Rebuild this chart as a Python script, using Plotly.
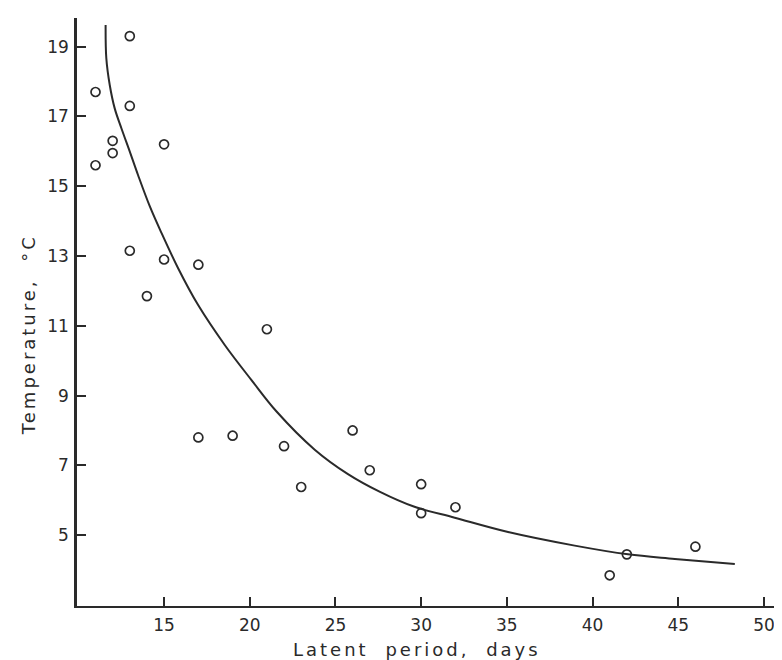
import plotly.graph_objects as go

# Observed points (latent period in days, temperature in °C)
latent_days = [13, 11, 13, 12, 12, 11, 15, 13, 15, 17, 14, 21, 17, 19,
               22, 26, 23, 27, 30, 30, 32, 41, 42, 46]
temperature = [19.3, 17.7, 17.3, 16.3, 15.95, 15.6, 16.2, 13.15, 12.9, 12.75, 11.85, 10.9, 7.8, 7.85,
               7.55, 8.0, 6.38, 6.86, 6.46, 5.63, 5.8, 3.85, 4.45, 4.67]

# Fitted curve
curve_days = [11.59, 11.63, 11.83, 12.12, 12.51, 13.0, 13.48, 14.17, 14.84, 15.82,
              16.98, 18.54, 20.09, 21.55, 23.79, 25.73, 27.6, 29.57, 31.96, 35.07,
              38.96, 42.07, 44.8, 48.3]
curve_temp = [19.62, 18.67, 17.9, 17.23, 16.66, 15.99, 15.32, 14.42, 13.67, 12.65,
              11.6, 10.45, 9.45, 8.55, 7.45, 6.75, 6.24, 5.82, 5.5, 5.09,
              4.7, 4.45, 4.32, 4.17]

x_ticks = [15, 20, 25, 30, 35, 40, 45, 50]
y_ticks = [5, 7, 9, 11, 13, 15, 17, 19]

x_title = "Latent period, days"
y_title = "Temperature, °C"

ink = "#2a2a2a"
font = "DejaVu Sans"
spaced = '<span style="letter-spacing:3px;word-spacing:8px">{}</span>'

fig = go.Figure()
fig.add_trace(go.Scatter(x=curve_days, y=curve_temp, mode="lines",
                         line=dict(color=ink, width=2, shape="spline", smoothing=1.0),
                         hoverinfo="skip", showlegend=False))
fig.add_trace(go.Scatter(x=latent_days, y=temperature, mode="markers",
                         marker=dict(symbol="circle-open", size=9, color=ink,
                                     line=dict(width=1.7, color=ink)),
                         showlegend=False))

fig.update_layout(
    width=782, height=660,
    margin=dict(l=69, r=0, t=10, b=62),
    paper_bgcolor="white", plot_bgcolor="white",
    font=dict(family=font, color=ink, size=17),
    xaxis=dict(range=[9.92, 51.52], tickvals=x_ticks, ticks="inside", ticklen=9,
               tickwidth=1.5, tickcolor=ink, showline=True, linecolor=ink, linewidth=2,
               showgrid=False, zeroline=False, tickfont=dict(size=17),
               ticklabelstandoff=3),
    yaxis=dict(range=[2.97, 19.82], tickvals=y_ticks, ticks="inside", ticklen=9,
               tickwidth=1.5, tickcolor=ink, showline=True, linecolor=ink, linewidth=2.5,
               showgrid=False, zeroline=False, tickfont=dict(size=17),
               ticklabelstandoff=2),
    annotations=[
        dict(text=spaced.format(x_title), xref="paper", yref="paper",
             x=0.477, y=-0.0745, xanchor="center", yanchor="middle",
             showarrow=False, font=dict(size=18, color=ink)),
        dict(text=spaced.format(y_title), xref="paper", yref="paper",
             x=-0.067, y=0.461, xanchor="center", yanchor="middle", textangle=-90,
             showarrow=False, font=dict(size=18, color=ink)),
    ],
)

fig.write_html("out.html")
